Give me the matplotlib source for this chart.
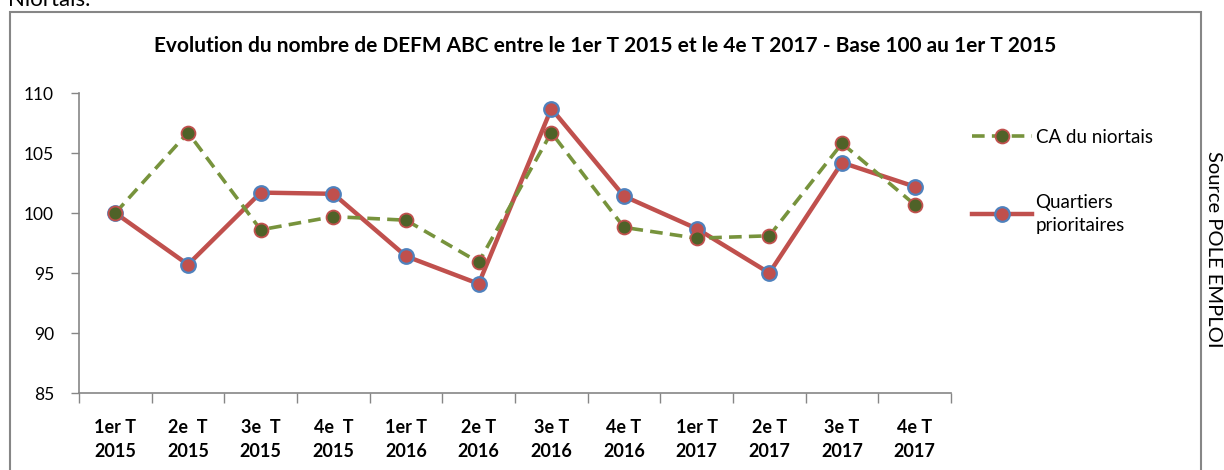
import matplotlib
matplotlib.use("Agg")
from matplotlib import pyplot as plt
from matplotlib.patches import Rectangle

# données
trimestres = ["1er T\n2015", "2e  T\n2015", "3e  T\n2015", "4e  T\n2015",
              "1er T\n2016", "2e T\n2016", "3e T\n2016", "4e T\n2016",
              "1er T\n2017", "2e T\n2017", "3e T\n2017", "4e T\n2017"]
ca_niortais = [100, 106.7, 98.6, 99.7, 99.4, 95.9, 106.7, 98.8, 97.9, 98.1, 105.8, 100.7]
quartiers = [100, 95.7, 101.7, 101.6, 96.4, 94.1, 108.7, 101.4, 98.7, 95.0, 104.2, 102.2]
y_ticks = [85, 90, 95, 100, 105, 110]

plt.rcParams['font.family'] = ['Lato', 'DejaVu Sans']
gris = '#868686'

fig = plt.figure(figsize=(12.24, 4.70), dpi=100)
ax = fig.add_axes([79 / 1224, 77 / 470, 872 / 1224, 300 / 470])

x = list(range(len(trimestres)))
l1, = ax.plot(x, ca_niortais, color='#77933C', lw=2.6, ls=(0, (3.5, 2)),
              marker='o', ms=10, mfc='#4F6228', mec='#C0504D', mew=1.3, zorder=3)
l2, = ax.plot(x, quartiers, color='#C0504D', lw=3.2,
              marker='o', ms=10.5, mfc='#C0504D', mec='#4F81BD', mew=1.6, zorder=2)

ax.set_xlim(-0.5, len(trimestres) - 0.5)
ax.set_ylim(85, 110)
ax.set_yticks(y_ticks)
ax.tick_params(axis='y', labelsize=12.5, length=6, width=1, color=gris, pad=12)

ax.set_xticks(x)
ax.set_xticklabels(trimestres, fontweight='bold', fontsize=13, linespacing=1.5)
ax.set_xticks([i - 0.5 for i in range(len(trimestres) + 1)], minor=True)
ax.tick_params(axis='x', which='major', length=0, pad=19)
ax.tick_params(axis='x', which='minor', length=7, width=1, color=gris)

for s in ['top', 'right']:
    ax.spines[s].set_visible(False)
for s in ['left', 'bottom']:
    ax.spines[s].set_color(gris)
    ax.spines[s].set_linewidth(1.2)

fig.text(605 / 1224, 1 - 46 / 470,
         "Evolution du nombre de DEFM ABC entre le 1er T 2015 et le 4e T 2017 - Base 100 au 1er T 2015",
         ha='center', va='center', fontsize=15, fontweight='bold')

leg = fig.legend([l1, l2], ["CA du niortais", "Quartiers\nprioritaires"],
                 loc='upper left', bbox_to_anchor=(955 / 1224, 1 - 112 / 470),
                 frameon=False, fontsize=13.5, handlelength=3.2, handletextpad=0.2,
                 labelspacing=2.55)
for t in leg.get_texts():
    t.set_linespacing(1.45)

fig.text(1213 / 1224, 1 - 249 / 470, "Source POLE EMPLOI", rotation=270,
         ha='center', va='center', fontsize=14.5)

# cadre
fig.patches.append(Rectangle((10 / 1224, -0.1), 1191 / 1224, 1.1 - 12 / 470,
                             transform=fig.transFigure, fill=False,
                             edgecolor=gris, lw=1.5, clip_on=False))
fig.text(8 / 1224, 1 - 6 / 470, "Niortais.", fontsize=16, va='baseline')

fig.savefig("out.png", dpi=100)
